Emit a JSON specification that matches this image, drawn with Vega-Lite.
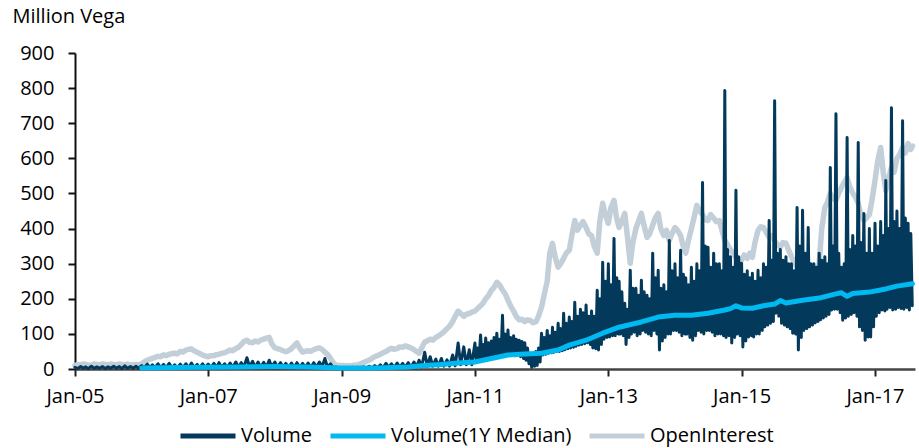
{
  "$schema": "https://vega.github.io/schema/vega-lite/v6.json",
  "width": 840,
  "height": 316,
  "autosize": {"type": "none"},
  "padding": {"left": 75, "top": 53, "right": 4, "bottom": 79},
  "background": "white",
  "config": {
    "font": "Open Sans",
    "view": {"stroke": null},
    "legend": {
      "orient": "none",
      "legendX": 103,
      "legendY": 353,
      "direction": "horizontal",
      "symbolType": "stroke",
      "symbolSize": 3025,
      "symbolStrokeWidth": 5,
      "labelFontSize": 20,
      "labelColor": "#000000",
      "labelOffset": 3,
      "columnPadding": 7,
      "labelLimit": 400
    }
  },
  "datasets": {
    "oi": [
      {"d":"2005-01-01","v":10},{"d":"2005-01-15","v":13},{"d":"2005-02-01","v":12},{"d":"2005-02-15","v":14},{"d":"2005-03-01","v":13},{"d":"2005-03-15","v":11},{"d":"2005-04-01","v":11},{"d":"2005-04-15","v":14},{"d":"2005-05-01","v":13},{"d":"2005-05-15","v":12},{"d":"2005-06-01","v":14},{"d":"2005-06-15","v":13},{"d":"2005-07-01","v":12},{"d":"2005-07-15","v":14},{"d":"2005-08-01","v":13},{"d":"2005-08-15","v":12},{"d":"2005-09-01","v":14},{"d":"2005-09-15","v":13},{"d":"2005-10-01","v":12},{"d":"2005-10-15","v":14},{"d":"2005-11-01","v":11},{"d":"2005-11-15","v":12},{"d":"2005-12-01","v":13},{"d":"2005-12-15","v":11},
      {"d":"2006-01-01","v":15},{"d":"2006-01-15","v":20},{"d":"2006-02-01","v":25},{"d":"2006-02-15","v":28},{"d":"2006-03-01","v":30},{"d":"2006-03-15","v":33},{"d":"2006-04-01","v":36},{"d":"2006-04-15","v":35},{"d":"2006-05-01","v":40},{"d":"2006-05-15","v":38},{"d":"2006-06-01","v":42},{"d":"2006-06-15","v":44},{"d":"2006-07-01","v":45},{"d":"2006-07-15","v":43},{"d":"2006-08-01","v":50},{"d":"2006-08-15","v":48},{"d":"2006-09-01","v":54},{"d":"2006-09-15","v":56},{"d":"2006-10-01","v":57},{"d":"2006-10-15","v":52},{"d":"2006-11-01","v":48},{"d":"2006-11-15","v":44},{"d":"2006-12-01","v":40},{"d":"2006-12-15","v":37},
      {"d":"2007-01-01","v":35},{"d":"2007-01-15","v":38},{"d":"2007-02-01","v":38},{"d":"2007-02-15","v":41},{"d":"2007-03-01","v":42},{"d":"2007-03-15","v":45},{"d":"2007-04-01","v":46},{"d":"2007-04-15","v":50},{"d":"2007-05-01","v":54},{"d":"2007-05-15","v":52},{"d":"2007-06-01","v":58},{"d":"2007-06-15","v":62},{"d":"2007-07-01","v":70},{"d":"2007-07-15","v":78},{"d":"2007-08-01","v":82},{"d":"2007-08-15","v":76},{"d":"2007-09-01","v":75},{"d":"2007-09-15","v":80},{"d":"2007-10-01","v":77},{"d":"2007-10-15","v":82},{"d":"2007-11-01","v":85},{"d":"2007-11-15","v":88},{"d":"2007-12-01","v":90},{"d":"2007-12-15","v":72},
      {"d":"2008-01-01","v":60},{"d":"2008-01-15","v":58},{"d":"2008-02-01","v":55},{"d":"2008-02-15","v":52},{"d":"2008-03-01","v":49},{"d":"2008-03-15","v":52},{"d":"2008-04-01","v":58},{"d":"2008-04-15","v":66},{"d":"2008-05-01","v":74},{"d":"2008-05-15","v":60},{"d":"2008-06-01","v":48},{"d":"2008-06-15","v":50},{"d":"2008-07-01","v":52},{"d":"2008-07-15","v":50},{"d":"2008-08-01","v":55},{"d":"2008-08-15","v":58},{"d":"2008-09-01","v":60},{"d":"2008-09-15","v":56},{"d":"2008-10-01","v":48},{"d":"2008-10-15","v":42},{"d":"2008-11-01","v":30},{"d":"2008-11-15","v":18},{"d":"2008-12-01","v":11},{"d":"2008-12-15","v":10},
      {"d":"2009-01-01","v":10},{"d":"2009-02-01","v":9},{"d":"2009-03-01","v":10},{"d":"2009-04-01","v":12},{"d":"2009-05-01","v":18},{"d":"2009-05-15","v":22},{"d":"2009-06-01","v":25},{"d":"2009-06-15","v":30},{"d":"2009-07-01","v":35},{"d":"2009-07-15","v":38},{"d":"2009-08-01","v":42},{"d":"2009-08-15","v":46},{"d":"2009-09-01","v":50},{"d":"2009-09-15","v":55},{"d":"2009-10-01","v":59},{"d":"2009-10-15","v":56},{"d":"2009-11-01","v":58},{"d":"2009-11-15","v":63},{"d":"2009-12-01","v":62},{"d":"2009-12-15","v":66},
      {"d":"2010-01-01","v":63},{"d":"2010-01-15","v":60},{"d":"2010-02-01","v":55},{"d":"2010-02-15","v":50},{"d":"2010-03-01","v":45},{"d":"2010-03-15","v":60},{"d":"2010-04-01","v":77},{"d":"2010-04-15","v":80},{"d":"2010-05-01","v":85},{"d":"2010-05-15","v":82},{"d":"2010-06-01","v":90},{"d":"2010-06-15","v":94},{"d":"2010-07-01","v":100},{"d":"2010-07-15","v":106},{"d":"2010-08-01","v":115},{"d":"2010-08-15","v":122},{"d":"2010-09-01","v":135},{"d":"2010-09-15","v":150},{"d":"2010-10-01","v":165},{"d":"2010-10-15","v":158},{"d":"2010-11-01","v":150},{"d":"2010-11-15","v":156},{"d":"2010-12-01","v":158},{"d":"2010-12-15","v":162},
      {"d":"2011-01-01","v":165},{"d":"2011-01-15","v":172},{"d":"2011-02-01","v":180},{"d":"2011-02-15","v":188},{"d":"2011-03-01","v":200},{"d":"2011-03-15","v":208},{"d":"2011-04-01","v":224},{"d":"2011-04-15","v":232},{"d":"2011-05-01","v":247},{"d":"2011-05-15","v":240},{"d":"2011-06-01","v":225},{"d":"2011-06-15","v":215},{"d":"2011-07-01","v":196},{"d":"2011-07-15","v":180},{"d":"2011-08-01","v":165},{"d":"2011-08-15","v":150},{"d":"2011-09-01","v":140},{"d":"2011-09-15","v":142},{"d":"2011-10-01","v":135},{"d":"2011-10-15","v":140},{"d":"2011-11-01","v":138},{"d":"2011-11-15","v":132},{"d":"2011-12-01","v":134},{"d":"2011-12-15","v":150},
      {"d":"2012-01-01","v":176},{"d":"2012-01-15","v":210},{"d":"2012-02-01","v":250},{"d":"2012-02-15","v":330},{"d":"2012-03-01","v":358},{"d":"2012-03-15","v":320},{"d":"2012-04-01","v":290},{"d":"2012-04-15","v":300},{"d":"2012-05-01","v":315},{"d":"2012-05-15","v":330},{"d":"2012-06-01","v":338},{"d":"2012-06-15","v":380},{"d":"2012-07-01","v":423},{"d":"2012-07-15","v":395},{"d":"2012-08-01","v":410},{"d":"2012-08-15","v":420},{"d":"2012-09-01","v":403},{"d":"2012-09-15","v":385},{"d":"2012-10-01","v":380},{"d":"2012-10-15","v":350},{"d":"2012-11-01","v":330},{"d":"2012-11-15","v":420},{"d":"2012-12-01","v":472},{"d":"2012-12-15","v":440},
      {"d":"2013-01-01","v":415},{"d":"2013-01-15","v":460},{"d":"2013-02-01","v":480},{"d":"2013-02-15","v":430},{"d":"2013-03-01","v":403},{"d":"2013-03-15","v":420},{"d":"2013-04-01","v":443},{"d":"2013-04-15","v":380},{"d":"2013-05-01","v":301},{"d":"2013-05-15","v":360},{"d":"2013-06-01","v":400},{"d":"2013-06-15","v":420},{"d":"2013-07-01","v":443},{"d":"2013-07-15","v":410},{"d":"2013-08-01","v":375},{"d":"2013-08-15","v":385},{"d":"2013-09-01","v":410},{"d":"2013-09-15","v":430},{"d":"2013-10-01","v":443},{"d":"2013-10-15","v":400},{"d":"2013-11-01","v":380},{"d":"2013-11-15","v":395},{"d":"2013-12-01","v":366},{"d":"2013-12-15","v":385},
      {"d":"2014-01-01","v":403},{"d":"2014-01-15","v":395},{"d":"2014-02-01","v":380},{"d":"2014-02-15","v":350},{"d":"2014-03-01","v":330},{"d":"2014-03-15","v":365},{"d":"2014-04-01","v":400},{"d":"2014-04-15","v":430},{"d":"2014-05-01","v":466},{"d":"2014-05-15","v":450},{"d":"2014-06-01","v":440},{"d":"2014-06-15","v":425},{"d":"2014-07-01","v":423},{"d":"2014-07-15","v":440},{"d":"2014-08-01","v":430},{"d":"2014-08-15","v":420},{"d":"2014-09-01","v":423},{"d":"2014-09-15","v":395},{"d":"2014-10-01","v":366},{"d":"2014-10-15","v":355},{"d":"2014-11-01","v":340},{"d":"2014-11-15","v":330},{"d":"2014-12-01","v":318},{"d":"2014-12-15","v":305},
      {"d":"2015-01-01","v":310},{"d":"2015-01-15","v":325},{"d":"2015-02-01","v":315},{"d":"2015-02-15","v":330},{"d":"2015-03-01","v":318},{"d":"2015-03-15","v":360},{"d":"2015-04-01","v":395},{"d":"2015-04-15","v":405},{"d":"2015-05-01","v":403},{"d":"2015-05-15","v":390},{"d":"2015-06-01","v":375},{"d":"2015-06-15","v":380},{"d":"2015-07-01","v":365},{"d":"2015-07-15","v":355},{"d":"2015-08-01","v":347},{"d":"2015-08-15","v":360},{"d":"2015-09-01","v":358},{"d":"2015-09-15","v":340},{"d":"2015-10-01","v":320},{"d":"2015-10-15","v":305},{"d":"2015-11-01","v":290},{"d":"2015-11-15","v":280},{"d":"2015-12-01","v":265},{"d":"2015-12-15","v":255},
      {"d":"2016-01-01","v":253},{"d":"2016-01-15","v":262},{"d":"2016-02-01","v":253},{"d":"2016-02-15","v":265},{"d":"2016-03-01","v":300},{"d":"2016-03-15","v":400},{"d":"2016-04-01","v":460},{"d":"2016-04-15","v":475},{"d":"2016-05-01","v":500},{"d":"2016-05-15","v":485},{"d":"2016-06-01","v":480},{"d":"2016-06-15","v":500},{"d":"2016-07-01","v":517},{"d":"2016-07-15","v":530},{"d":"2016-08-01","v":545},{"d":"2016-08-15","v":520},{"d":"2016-09-01","v":500},{"d":"2016-09-15","v":490},{"d":"2016-10-01","v":472},{"d":"2016-10-15","v":440},{"d":"2016-11-01","v":423},{"d":"2016-11-15","v":430},{"d":"2016-12-01","v":440},{"d":"2016-12-15","v":480},
      {"d":"2017-01-01","v":537},{"d":"2017-01-15","v":590},{"d":"2017-02-01","v":631},{"d":"2017-02-15","v":560},{"d":"2017-03-01","v":508},{"d":"2017-03-15","v":540},{"d":"2017-04-01","v":574},{"d":"2017-04-15","v":560},{"d":"2017-05-01","v":600},{"d":"2017-05-15","v":610},{"d":"2017-06-01","v":631},{"d":"2017-06-15","v":615},{"d":"2017-07-01","v":642},{"d":"2017-07-15","v":625},{"d":"2017-07-25","v":635}
    ],
    "med": [
      {"d":"2006-01-01","v":3},{"d":"2006-07-01","v":4},{"d":"2007-01-01","v":5},{"d":"2007-07-01","v":6},{"d":"2008-01-01","v":7},{"d":"2008-07-01","v":6},{"d":"2009-01-01","v":3},{"d":"2009-07-01","v":3},{"d":"2010-01-01","v":6},{"d":"2010-04-01","v":10},{"d":"2010-07-01","v":13},{"d":"2010-10-01","v":17},
      {"d":"2011-01-01","v":20},{"d":"2011-04-01","v":30},{"d":"2011-07-01","v":40},{"d":"2011-10-01","v":43},{"d":"2012-01-01","v":45},{"d":"2012-04-01","v":54},{"d":"2012-06-01","v":68},{"d":"2012-09-01","v":82},{"d":"2012-12-01","v":102},{"d":"2013-03-01","v":119},{"d":"2013-07-01","v":134},{"d":"2013-10-01","v":148},
      {"d":"2014-01-01","v":153},{"d":"2014-04-01","v":153},{"d":"2014-07-01","v":159},{"d":"2014-10-01","v":168},{"d":"2014-11-01","v":172},{"d":"2014-12-01","v":180},{"d":"2015-01-01","v":174},{"d":"2015-03-01","v":173},{"d":"2015-05-01","v":180},{"d":"2015-07-01","v":185},{"d":"2015-08-01","v":195},{"d":"2015-09-01","v":188},{"d":"2015-12-01","v":196},
      {"d":"2016-03-01","v":202},{"d":"2016-06-01","v":214},{"d":"2016-07-01","v":217},{"d":"2016-08-01","v":207},{"d":"2016-09-01","v":215},{"d":"2016-12-01","v":219},{"d":"2017-03-01","v":228},{"d":"2017-05-01","v":236},{"d":"2017-07-25","v":243}
    ],
    "vol": [
      {"d":"2005-01-01","v":5},{"d":"2005-01-15","v":1},{"d":"2005-02-01","v":7},{"d":"2005-02-15","v":2},{"d":"2005-03-01","v":6},{"d":"2005-03-15","v":1},{"d":"2005-04-01","v":8},{"d":"2005-04-15","v":2},{"d":"2005-05-01","v":6},{"d":"2005-05-15","v":2},{"d":"2005-06-01","v":7},{"d":"2005-06-15","v":1},{"d":"2005-07-01","v":6},{"d":"2005-07-15","v":2},{"d":"2005-08-01","v":8},{"d":"2005-08-15","v":2},{"d":"2005-09-01","v":7},{"d":"2005-09-15","v":1},{"d":"2005-10-01","v":9},{"d":"2005-10-15","v":2},{"d":"2005-11-01","v":7},{"d":"2005-11-15","v":2},{"d":"2005-12-01","v":8},{"d":"2005-12-15","v":2},
      {"d":"2006-01-01","v":10},{"d":"2006-01-15","v":3},{"d":"2006-02-01","v":14},{"d":"2006-02-15","v":4},{"d":"2006-03-01","v":12},{"d":"2006-03-15","v":3},{"d":"2006-04-01","v":15},{"d":"2006-04-15","v":4},{"d":"2006-05-01","v":13},{"d":"2006-05-15","v":3},{"d":"2006-06-01","v":16},{"d":"2006-06-15","v":4},{"d":"2006-07-01","v":12},{"d":"2006-07-15","v":3},{"d":"2006-08-01","v":14},{"d":"2006-08-15","v":4},{"d":"2006-09-01","v":15},{"d":"2006-09-15","v":3},{"d":"2006-10-01","v":17},{"d":"2006-10-15","v":4},{"d":"2006-11-01","v":13},{"d":"2006-11-15","v":3},{"d":"2006-12-01","v":15},{"d":"2006-12-15","v":4},
      {"d":"2007-01-01","v":14},{"d":"2007-01-15","v":4},{"d":"2007-02-01","v":16},{"d":"2007-02-15","v":4},{"d":"2007-03-01","v":18},{"d":"2007-03-15","v":5},{"d":"2007-04-01","v":15},{"d":"2007-04-15","v":4},{"d":"2007-05-01","v":17},{"d":"2007-05-15","v":5},{"d":"2007-06-01","v":20},{"d":"2007-06-15","v":5},{"d":"2007-07-01","v":18},{"d":"2007-07-15","v":5},{"d":"2007-08-01","v":32},{"d":"2007-08-15","v":6},{"d":"2007-09-01","v":22},{"d":"2007-09-15","v":5},{"d":"2007-10-01","v":20},{"d":"2007-10-15","v":5},{"d":"2007-11-01","v":19},{"d":"2007-11-15","v":5},{"d":"2007-12-01","v":25},{"d":"2007-12-15","v":6},
      {"d":"2008-01-01","v":20},{"d":"2008-01-15","v":5},{"d":"2008-02-01","v":18},{"d":"2008-02-15","v":5},{"d":"2008-03-01","v":16},{"d":"2008-03-15","v":4},{"d":"2008-04-01","v":17},{"d":"2008-04-15","v":4},{"d":"2008-05-01","v":18},{"d":"2008-05-15","v":5},{"d":"2008-06-01","v":16},{"d":"2008-06-15","v":4},{"d":"2008-07-01","v":17},{"d":"2008-07-15","v":4},{"d":"2008-08-01","v":18},{"d":"2008-08-15","v":5},{"d":"2008-09-01","v":20},{"d":"2008-09-15","v":5},{"d":"2008-10-01","v":30},{"d":"2008-10-15","v":6},{"d":"2008-11-01","v":15},{"d":"2008-11-15","v":3},{"d":"2008-12-01","v":6},{"d":"2008-12-15","v":1},
      {"d":"2009-01-01","v":4},{"d":"2009-01-15","v":1},{"d":"2009-02-01","v":4},{"d":"2009-02-15","v":1},{"d":"2009-03-01","v":5},{"d":"2009-03-15","v":1},{"d":"2009-04-01","v":5},{"d":"2009-04-15","v":1},{"d":"2009-05-01","v":6},{"d":"2009-05-15","v":2},{"d":"2009-06-01","v":8},{"d":"2009-06-15","v":2},{"d":"2009-07-01","v":10},{"d":"2009-07-15","v":3},{"d":"2009-08-01","v":12},{"d":"2009-08-15","v":3},{"d":"2009-09-01","v":16},{"d":"2009-09-15","v":4},{"d":"2009-10-01","v":15},{"d":"2009-10-15","v":4},{"d":"2009-11-01","v":17},{"d":"2009-11-15","v":5},{"d":"2009-12-01","v":16},{"d":"2009-12-15","v":5},
      {"d":"2010-01-01","v":18},{"d":"2010-01-15","v":5},{"d":"2010-02-01","v":20},{"d":"2010-02-15","v":6},{"d":"2010-03-01","v":25},{"d":"2010-03-15","v":6},{"d":"2010-04-01","v":48},{"d":"2010-04-15","v":8},{"d":"2010-05-01","v":35},{"d":"2010-05-15","v":8},{"d":"2010-06-01","v":28},{"d":"2010-06-15","v":8},{"d":"2010-07-01","v":30},{"d":"2010-07-15","v":8},{"d":"2010-08-01","v":26},{"d":"2010-08-15","v":8},{"d":"2010-09-01","v":40},{"d":"2010-09-15","v":9},{"d":"2010-10-01","v":74},{"d":"2010-10-15","v":12},{"d":"2010-11-01","v":63},{"d":"2010-11-15","v":12},{"d":"2010-12-01","v":55},{"d":"2010-12-15","v":12},
      {"d":"2011-01-01","v":74},{"d":"2011-01-08","v":25},{"d":"2011-01-16","v":60},{"d":"2011-01-24","v":28},
      {"d":"2011-02-01","v":97},{"d":"2011-02-08","v":30},{"d":"2011-02-16","v":70},{"d":"2011-02-24","v":28},
      {"d":"2011-03-01","v":88},{"d":"2011-03-08","v":32},{"d":"2011-03-16","v":75},{"d":"2011-03-24","v":30},
      {"d":"2011-04-01","v":80},{"d":"2011-04-08","v":32},{"d":"2011-04-16","v":90},{"d":"2011-04-24","v":33},
      {"d":"2011-05-01","v":102},{"d":"2011-05-08","v":35},{"d":"2011-05-16","v":85},{"d":"2011-05-24","v":36},
      {"d":"2011-06-01","v":153},{"d":"2011-06-08","v":38},{"d":"2011-06-16","v":100},{"d":"2011-06-24","v":40},
      {"d":"2011-07-01","v":111},{"d":"2011-07-08","v":40},{"d":"2011-07-16","v":90},{"d":"2011-07-24","v":42},
      {"d":"2011-08-01","v":95},{"d":"2011-08-08","v":38},{"d":"2011-08-16","v":85},{"d":"2011-08-24","v":40},
      {"d":"2011-09-01","v":82},{"d":"2011-09-08","v":35},{"d":"2011-09-16","v":78},{"d":"2011-09-24","v":30},
      {"d":"2011-10-01","v":75},{"d":"2011-10-08","v":25},{"d":"2011-10-16","v":60},{"d":"2011-10-24","v":15},
      {"d":"2011-11-01","v":40},{"d":"2011-11-08","v":5},{"d":"2011-11-16","v":35},{"d":"2011-11-24","v":8},
      {"d":"2011-12-01","v":50},{"d":"2011-12-08","v":10},{"d":"2011-12-16","v":60},{"d":"2011-12-24","v":20},
      {"d":"2012-01-01","v":102},{"d":"2012-01-08","v":40},{"d":"2012-01-16","v":90},{"d":"2012-01-24","v":42},
      {"d":"2012-02-01","v":110},{"d":"2012-02-08","v":45},{"d":"2012-02-16","v":95},{"d":"2012-02-24","v":46},
      {"d":"2012-03-01","v":119},{"d":"2012-03-08","v":48},{"d":"2012-03-16","v":105},{"d":"2012-03-24","v":50},
      {"d":"2012-04-01","v":130},{"d":"2012-04-08","v":50},{"d":"2012-04-16","v":115},{"d":"2012-04-24","v":52},
      {"d":"2012-05-01","v":159},{"d":"2012-05-08","v":55},{"d":"2012-05-16","v":130},{"d":"2012-05-24","v":58},
      {"d":"2012-06-01","v":148},{"d":"2012-06-08","v":60},{"d":"2012-06-16","v":135},{"d":"2012-06-24","v":62},
      {"d":"2012-07-01","v":190},{"d":"2012-07-08","v":65},{"d":"2012-07-16","v":150},{"d":"2012-07-24","v":68},
      {"d":"2012-08-01","v":170},{"d":"2012-08-08","v":70},{"d":"2012-08-16","v":160},{"d":"2012-08-24","v":72},
      {"d":"2012-09-01","v":182},{"d":"2012-09-08","v":75},{"d":"2012-09-16","v":150},{"d":"2012-09-24","v":70},
      {"d":"2012-10-01","v":165},{"d":"2012-10-08","v":60},{"d":"2012-10-16","v":150},{"d":"2012-10-24","v":58},
      {"d":"2012-11-01","v":224},{"d":"2012-11-08","v":54},{"d":"2012-11-16","v":200},{"d":"2012-11-24","v":70},
      {"d":"2012-12-01","v":304},{"d":"2012-12-08","v":85},{"d":"2012-12-16","v":250},{"d":"2012-12-24","v":90},
      {"d":"2013-01-01","v":300},{"d":"2013-01-08","v":91},{"d":"2013-01-16","v":240},{"d":"2013-01-24","v":95},
      {"d":"2013-02-01","v":372},{"d":"2013-02-08","v":95},{"d":"2013-02-16","v":260},{"d":"2013-02-24","v":100},
      {"d":"2013-03-01","v":250},{"d":"2013-03-08","v":100},{"d":"2013-03-16","v":220},{"d":"2013-03-24","v":95},
      {"d":"2013-04-01","v":187},{"d":"2013-04-08","v":70},{"d":"2013-04-16","v":170},{"d":"2013-04-24","v":90},
      {"d":"2013-05-01","v":281},{"d":"2013-05-08","v":100},{"d":"2013-05-16","v":230},{"d":"2013-05-24","v":105},
      {"d":"2013-06-01","v":230},{"d":"2013-06-08","v":95},{"d":"2013-06-16","v":210},{"d":"2013-06-24","v":100},
      {"d":"2013-07-01","v":253},{"d":"2013-07-08","v":110},{"d":"2013-07-16","v":220},{"d":"2013-07-24","v":105},
      {"d":"2013-08-01","v":210},{"d":"2013-08-08","v":100},{"d":"2013-08-16","v":200},{"d":"2013-08-24","v":95},
      {"d":"2013-09-01","v":330},{"d":"2013-09-08","v":110},{"d":"2013-09-16","v":260},{"d":"2013-09-24","v":100},
      {"d":"2013-10-01","v":281},{"d":"2013-10-08","v":54},{"d":"2013-10-16","v":230},{"d":"2013-10-24","v":80},
      {"d":"2013-11-01","v":240},{"d":"2013-11-08","v":90},{"d":"2013-11-16","v":220},{"d":"2013-11-24","v":100},
      {"d":"2013-12-01","v":366},{"d":"2013-12-08","v":100},{"d":"2013-12-16","v":280},{"d":"2013-12-24","v":110},
      {"d":"2014-01-01","v":300},{"d":"2014-01-08","v":110},{"d":"2014-01-16","v":260},{"d":"2014-01-24","v":105},
      {"d":"2014-02-01","v":338},{"d":"2014-02-08","v":95},{"d":"2014-02-16","v":270},{"d":"2014-02-24","v":100},
      {"d":"2014-03-01","v":260},{"d":"2014-03-08","v":100},{"d":"2014-03-16","v":240},{"d":"2014-03-24","v":90},
      {"d":"2014-04-01","v":290},{"d":"2014-04-08","v":82},{"d":"2014-04-16","v":250},{"d":"2014-04-24","v":95},
      {"d":"2014-05-01","v":300},{"d":"2014-05-08","v":110},{"d":"2014-05-16","v":280},{"d":"2014-05-24","v":105},
      {"d":"2014-06-01","v":531},{"d":"2014-06-08","v":100},{"d":"2014-06-16","v":350},{"d":"2014-06-24","v":110},
      {"d":"2014-07-01","v":347},{"d":"2014-07-08","v":110},{"d":"2014-07-16","v":290},{"d":"2014-07-24","v":105},
      {"d":"2014-08-01","v":330},{"d":"2014-08-08","v":95},{"d":"2014-08-16","v":300},{"d":"2014-08-24","v":100},
      {"d":"2014-09-01","v":300},{"d":"2014-09-08","v":100},{"d":"2014-09-16","v":280},{"d":"2014-09-24","v":95},
      {"d":"2014-10-01","v":793},{"d":"2014-10-08","v":90},{"d":"2014-10-16","v":340},{"d":"2014-10-24","v":95},
      {"d":"2014-11-01","v":320},{"d":"2014-11-08","v":74},{"d":"2014-11-16","v":290},{"d":"2014-11-24","v":90},
      {"d":"2014-12-01","v":509},{"d":"2014-12-08","v":100},{"d":"2014-12-16","v":320},{"d":"2014-12-24","v":95},
      {"d":"2015-01-01","v":301},{"d":"2015-01-08","v":63},{"d":"2015-01-16","v":270},{"d":"2015-01-24","v":80},
      {"d":"2015-02-01","v":280},{"d":"2015-02-08","v":91},{"d":"2015-02-16","v":260},{"d":"2015-02-24","v":95},
      {"d":"2015-03-01","v":273},{"d":"2015-03-08","v":91},{"d":"2015-03-16","v":250},{"d":"2015-03-24","v":100},
      {"d":"2015-04-01","v":281},{"d":"2015-04-08","v":100},{"d":"2015-04-16","v":260},{"d":"2015-04-24","v":110},
      {"d":"2015-05-01","v":300},{"d":"2015-05-08","v":120},{"d":"2015-05-16","v":290},{"d":"2015-05-24","v":125},
      {"d":"2015-06-01","v":423},{"d":"2015-06-08","v":130},{"d":"2015-06-16","v":310},{"d":"2015-06-24","v":135},
      {"d":"2015-07-01","v":764},{"d":"2015-07-08","v":159},{"d":"2015-07-16","v":330},{"d":"2015-07-24","v":150},
      {"d":"2015-08-01","v":340},{"d":"2015-08-08","v":130},{"d":"2015-08-16","v":310},{"d":"2015-08-24","v":125},
      {"d":"2015-09-01","v":320},{"d":"2015-09-08","v":120},{"d":"2015-09-16","v":300},{"d":"2015-09-24","v":115},
      {"d":"2015-10-01","v":300},{"d":"2015-10-08","v":102},{"d":"2015-10-16","v":280},{"d":"2015-10-24","v":100},
      {"d":"2015-11-01","v":460},{"d":"2015-11-08","v":54},{"d":"2015-11-16","v":350},{"d":"2015-11-24","v":90},
      {"d":"2015-12-01","v":452},{"d":"2015-12-08","v":110},{"d":"2015-12-16","v":330},{"d":"2015-12-24","v":115},
      {"d":"2016-01-01","v":403},{"d":"2016-01-08","v":120},{"d":"2016-01-16","v":300},{"d":"2016-01-24","v":125},
      {"d":"2016-02-01","v":300},{"d":"2016-02-08","v":131},{"d":"2016-02-16","v":290},{"d":"2016-02-24","v":135},
      {"d":"2016-03-01","v":330},{"d":"2016-03-08","v":140},{"d":"2016-03-16","v":310},{"d":"2016-03-24","v":145},
      {"d":"2016-04-01","v":320},{"d":"2016-04-08","v":150},{"d":"2016-04-16","v":300},{"d":"2016-04-24","v":155},
      {"d":"2016-05-01","v":574},{"d":"2016-05-08","v":168},{"d":"2016-05-16","v":350},{"d":"2016-05-24","v":170},
      {"d":"2016-06-01","v":727},{"d":"2016-06-08","v":170},{"d":"2016-06-16","v":330},{"d":"2016-06-24","v":160},
      {"d":"2016-07-01","v":290},{"d":"2016-07-08","v":139},{"d":"2016-07-16","v":300},{"d":"2016-07-24","v":145},
      {"d":"2016-08-01","v":659},{"d":"2016-08-08","v":150},{"d":"2016-08-16","v":340},{"d":"2016-08-24","v":155},
      {"d":"2016-09-01","v":380},{"d":"2016-09-08","v":160},{"d":"2016-09-16","v":350},{"d":"2016-09-24","v":150},
      {"d":"2016-10-01","v":645},{"d":"2016-10-08","v":120},{"d":"2016-10-16","v":360},{"d":"2016-10-24","v":110},
      {"d":"2016-11-01","v":443},{"d":"2016-11-08","v":82},{"d":"2016-11-16","v":330},{"d":"2016-11-24","v":91},
      {"d":"2016-12-01","v":400},{"d":"2016-12-08","v":91},{"d":"2016-12-16","v":330},{"d":"2016-12-24","v":120},
      {"d":"2017-01-01","v":415},{"d":"2017-01-08","v":150},{"d":"2017-01-16","v":350},{"d":"2017-01-24","v":160},
      {"d":"2017-02-01","v":420},{"d":"2017-02-08","v":168},{"d":"2017-02-16","v":380},{"d":"2017-02-24","v":165},
      {"d":"2017-03-01","v":537},{"d":"2017-03-08","v":170},{"d":"2017-03-16","v":400},{"d":"2017-03-24","v":175},
      {"d":"2017-04-01","v":744},{"d":"2017-04-08","v":168},{"d":"2017-04-16","v":420},{"d":"2017-04-24","v":170},
      {"d":"2017-05-01","v":450},{"d":"2017-05-08","v":175},{"d":"2017-05-16","v":400},{"d":"2017-05-24","v":172},
      {"d":"2017-06-01","v":707},{"d":"2017-06-08","v":170},{"d":"2017-06-16","v":430},{"d":"2017-06-24","v":175},
      {"d":"2017-07-01","v":415},{"d":"2017-07-08","v":168},{"d":"2017-07-16","v":386},{"d":"2017-07-24","v":180}
    ]
  },
  "encoding": {
    "x": {
      "field": "d",
      "type": "temporal",
      "scale": {"domain": [{"year": 2005, "month": 1, "date": 1}, {"year": 2017, "month": 8, "date": 8}], "nice": false},
      "axis": {
        "title": null,
        "format": "%b-%y",
        "values": [
          {"year": 2005, "month": 1, "date": 1},
          {"year": 2007, "month": 1, "date": 1},
          {"year": 2009, "month": 1, "date": 1},
          {"year": 2011, "month": 1, "date": 1},
          {"year": 2013, "month": 1, "date": 1},
          {"year": 2015, "month": 1, "date": 1},
          {"year": 2017, "month": 1, "date": 1}
        ],
        "grid": false,
        "domainColor": "#444444",
        "domainWidth": 2.5,
        "tickColor": "#222222",
        "tickWidth": 2,
        "tickSize": 7,
        "labelFontSize": 20,
        "labelColor": "#000000",
        "labelPadding": 10,
        "labelFlush": false,
        "labelOverlap": false
      }
    },
    "y": {
      "field": "v",
      "type": "quantitative",
      "scale": {"domain": [0, 900], "nice": false},
      "axis": {
        "title": "Million Vega",
        "titleAngle": 0,
        "titleAlign": "left",
        "titleBaseline": "alphabetic",
        "titleX": -63,
        "titleY": -31,
        "titleFontSize": 20,
        "titleFontWeight": "normal",
        "titleColor": "#000000",
        "values": [0, 100, 200, 300, 400, 500, 600, 700, 800, 900],
        "grid": false,
        "domainColor": "#111111",
        "domainWidth": 2,
        "tickColor": "#111111",
        "tickWidth": 2,
        "tickSize": 7,
        "labelFontSize": 20,
        "labelColor": "#000000",
        "labelPadding": 14
      }
    }
  },
  "layer": [
    {
      "data": {"name": "oi"},
      "mark": {"type": "line", "strokeWidth": 5.5, "strokeJoin": "round", "strokeCap": "round"},
      "encoding": {
        "color": {
          "datum": "OpenInterest",
          "type": "nominal",
          "scale": {"domain": ["Volume", "Volume(1Y Median)", "OpenInterest"], "range": ["#033a5c", "#00b9f0", "#c3cfd8"]},
          "legend": {"title": null}
        }
      }
    },
    {
      "data": {"name": "vol"},
      "mark": {"type": "line", "strokeWidth": 3, "strokeJoin": "round", "strokeCap": "round"},
      "encoding": {
        "color": {
          "datum": "Volume",
          "type": "nominal",
          "scale": {"domain": ["Volume", "Volume(1Y Median)", "OpenInterest"], "range": ["#033a5c", "#00b9f0", "#c3cfd8"]},
          "legend": {"title": null}
        }
      }
    },
    {
      "data": {"name": "med"},
      "mark": {"type": "line", "strokeWidth": 5, "strokeJoin": "round", "strokeCap": "round"},
      "encoding": {
        "color": {
          "datum": "Volume(1Y Median)",
          "type": "nominal",
          "scale": {"domain": ["Volume", "Volume(1Y Median)", "OpenInterest"], "range": ["#033a5c", "#00b9f0", "#c3cfd8"]},
          "legend": {"title": null}
        }
      }
    }
  ]
}
